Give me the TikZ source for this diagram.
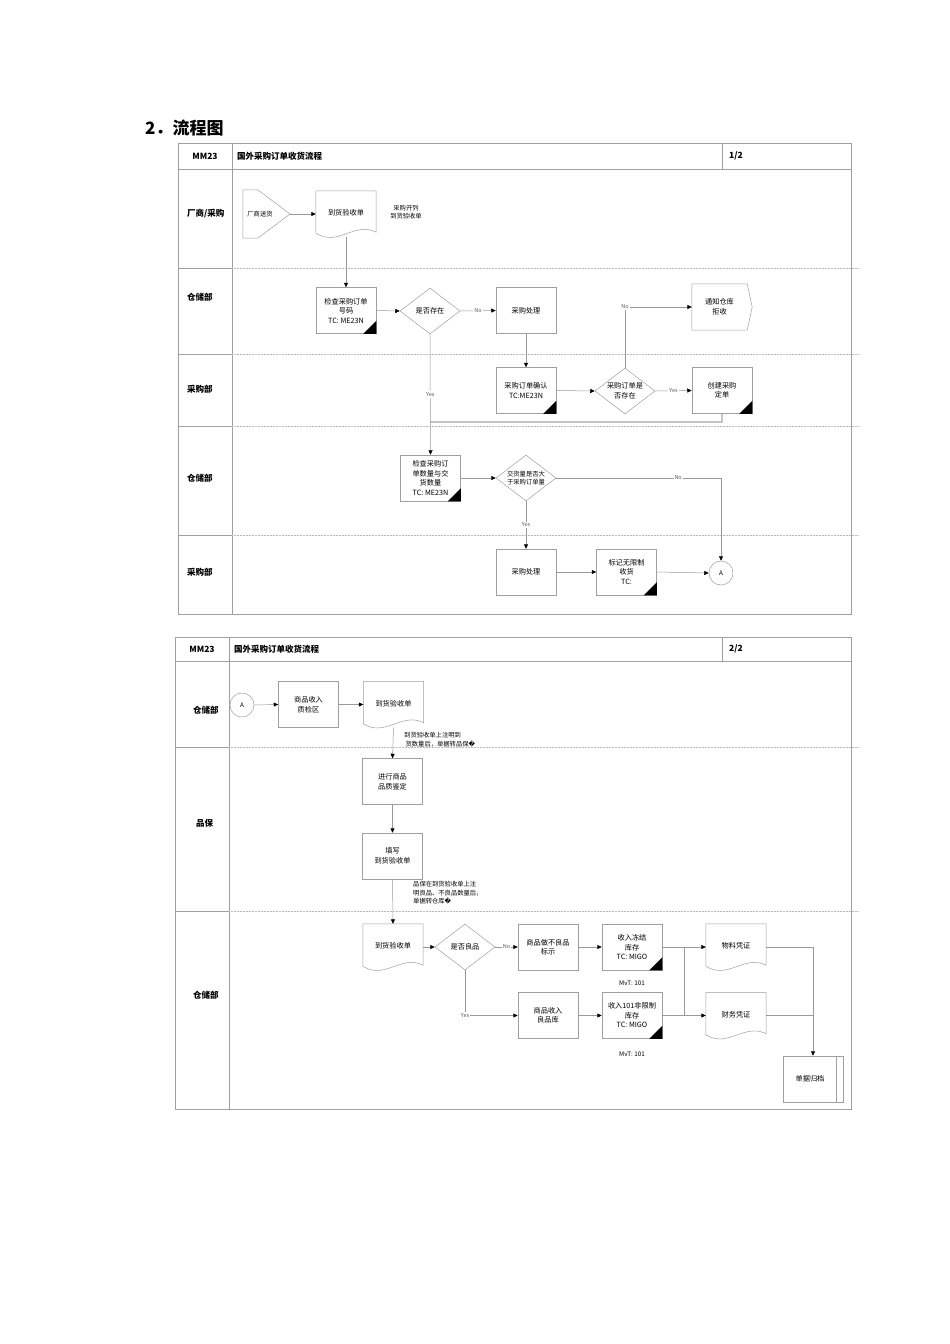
\documentclass[tikz,border=0pt]{standalone}
\usepackage{fontspec}
\setmainfont{Noto Sans CJK SC}
\newfontfamily\symfont{DejaVu Sans}
\usetikzlibrary{arrows.meta,shapes.geometric,calc}
\newcommand\myfs{\fontsize{7.2}{9.5}\selectfont}
\newcommand\mysm{\fontsize{6.3}{8.5}\selectfont}
\newcommand\mylb{\fontsize{5.5}{7}\selectfont}
\newcommand\myhd{\bfseries\fontsize{8.5}{10}\selectfont}
\newcommand\docout[1]{\draw[shp] (#1.north west) -- (#1.north east) -- ($(#1.south east)+(0,-5)$) .. controls ($(#1.south east)+(-22,-16)$) and ($(#1.south west)+(22,10)$) .. ($(#1.south west)+(0,-4)$) -- cycle;}
\newcommand\tri[1]{\fill (#1.south east) -- ++(-13,0) -- ++(13,-13) -- cycle;}
\newcommand\up[1]{\raisebox{3pt}{#1}}
\tikzset{
  frame/.style={draw=gray!75, line width=0.7pt},
  lane/.style={draw=gray!55, line width=0.5pt, densely dotted},
  shp/.style={draw=gray!75, line width=0.5pt},
  box/.style={shp, fill=white, rectangle, minimum width=60pt, minimum height=46pt, inner sep=1pt, align=center, font=\myfs},
  docbox/.style={rectangle, minimum width=60pt, minimum height=46pt, inner sep=1pt, align=center, font=\myfs},
  dia/.style={shp, fill=white, diamond, inner sep=0pt, minimum width=60pt, minimum height=46pt},
  circ/.style={shp, fill=white, circle, minimum size=24pt, inner sep=0pt, font=\mysm},
  txt/.style={inner sep=0pt, align=center, font=\myfs},
  note/.style={inner sep=0pt, align=left, font=\mysm, anchor=north west},
  hd/.style={inner sep=0pt, font=\myhd},
  lanelbl/.style={inner sep=0pt, font=\myhd, anchor=west},
  conn/.style={draw=gray!80, line width=0.5pt},
  arr/.style={conn, -{Triangle[length=4.5pt,width=4pt,color=black]}},
  gline/.style={draw=gray!45, line width=1.6pt},
  lbl/.style={fill=white, inner sep=1pt, font=\mylb, text=gray!70!black},
}
\begin{document}
\begin{tikzpicture}[x=1pt,y=-1pt]
\useasboundingbox[fill=white] (0,0) rectangle (950,1344);
% title
\node[inner sep=0pt, anchor=west, font=\bfseries\fontsize{17}{20}\selectfont] (title) at (145,128) {2．流程图};

% ===================== Table 1 =====================
\draw[frame] (178,143) rectangle (851,614);
\draw[frame] (178,169) -- (851,169);
\draw[frame] (232,143) -- (232,614);
\draw[frame] (722,143) -- (722,169);
\foreach \y in {268,354,426,535}{
  \draw[frame] (178,\y) -- (232,\y);
  \draw[lane] (232,\y) -- (858,\y);
}
\node[hd] (h1a) at (205,156) {MM23};
\node[hd, anchor=west] (h1b) at (237,156) {国外采购订单收货流程};
\node[hd, anchor=west] (h1c) at (729,156) {1/2};
\node[lanelbl] (l1a) at (187,214) {厂商/采购};
\node[lanelbl] (l1b) at (187,297) {仓储部};
\node[lanelbl] (l1c) at (187,389) {采购部};
\node[lanelbl] (l1d) at (187,478) {仓储部};
\node[lanelbl] (l1e) at (187,572) {采购部};

% vendor off-page shape
\node[txt, minimum width=34pt, minimum height=48pt, font=\mysm] (vend) at (260,214) {厂商送货};
\coordinate (vendtip) at (290,214);
\draw[shp] (vend.north west) -- ($(vend.north west)+(15,0)$) -- (vendtip) -- ($(vend.south west)+(15,0)$) -- (vend.south west) -- cycle;

\node[docbox] (doc1) at (346,214) {\up{到货验收单}};
\docout{doc1}
\node[note, anchor=center, align=center] (n1) at (406,212) {采购开列\\到货验收单};

\node[box] (chk1) at (346,310.5) {检查采购订单\\号码\\TC:\ ME23N};
\tri{chk1}
\node[dia] (dia1) at (430,311) {};
\node[txt] (dia1t) at (dia1) {是否存在};
\node[box] (proc1) at (526,310.5) {采购处理};
\node[box] (conf) at (526,390.5) {采购订单确认\\TC:ME23N};
\tri{conf}
\node[dia] (dia2) at (625,391) {};
\node[txt] (dia2t) at (dia2) {采购订单是\\否存在};
\node[box] (create) at (722,390.5) {创建采购\\定单};
\tri{create}
\node[txt, minimum width=55pt, minimum height=46pt] (notify) at (719.5,307) {通知仓库\\拒收};
\draw[shp] (notify.north west) -- (notify.north east) -- ($(notify.east)+(5,0)$) -- (notify.south east) -- (notify.south west) -- cycle;

\node[box] (chk2) at (430.5,478) {检查采购订\\单数量与交\\货数量\\TC:\ ME23N};
\tri{chk2}
\node[dia] (dia3) at (526,478) {};
\node[txt, font=\mysm] (dia3t) at (dia3) {交货量是否大\\于采购订单量};
\node[box] (proc2) at (526,572) {采购处理};
\node[box] (mark) at (626.5,572) {标记无限制\\收货\\TC:};
\tri{mark}
\node[circ] (cA1) at (721,573) {A};

\draw[arr] (vendtip) -- (doc1.west);
\draw[arr] (doc1.south) -- (chk1.north);
\draw[arr] (chk1.east) -- (dia1.west);
\draw[arr] (dia1.east) -- node[lbl]{No} (proc1.west);
\draw[arr] (proc1.south) -- (conf.north);
\draw[arr] (conf.east) -- (dia2.west);
\draw[arr] (dia2.east) -- node[lbl]{Yes} (create.west);
\draw[arr] (dia2.north) |- node[lbl, pos=0.5]{No} (notify.west);
\coordinate (junc) at (430,422);
\draw[gline] (create.south) |- (junc);
\draw[arr] (dia1.south) -- node[lbl]{Yes} (chk2.north);
\draw[arr] (chk2.east) -- (dia3.west);
\draw[arr] (dia3.east) -| node[lbl, pos=0.37]{No} (cA1.north);
\draw[arr] (dia3.south) -- node[lbl]{Yes} (proc2.north);
\draw[arr] (proc2.east) -- (mark.west);
\draw[arr] (mark.east) -- (cA1.west);

% ===================== Table 2 =====================
\draw[frame] (175,637) rectangle (851,1109);
\draw[frame] (175,661) -- (851,661);
\draw[frame] (229,637) -- (229,1109);
\draw[frame] (722,637) -- (722,661);
\foreach \y in {747,911}{
  \draw[frame] (175,\y) -- (229,\y);
  \draw[lane] (229,\y) -- (858,\y);
}
\node[hd] (h2a) at (202,649) {MM23};
\node[hd, anchor=west] (h2b) at (234,649) {国外采购订单收货流程};
\node[hd, anchor=west] (h2c) at (729,649) {2/2};
\node[lanelbl] (l2a) at (193,710) {仓储部};
\node[lanelbl] (l2b) at (196,823) {品保};
\node[lanelbl] (l2c) at (193,995) {仓储部};

\node[circ] (cA2) at (242,705) {A};
\node[box] (qin) at (308.5,704.5) {商品收入\\质检区};
\node[docbox] (doc2) at (393.5,704.5) {\up{到货验收单}};
\docout{doc2}
\node[note] (n2) at (404,732) {到货验收单上注明到\\\ 货数量后，单据转品保{\symfont �}};
\node[box] (qual) at (392.5,781.5) {进行商品\\品质鉴定};
\node[box] (fillq) at (392.5,856) {填写\\到货验收单};
\node[note] (n3) at (413,881) {品保在到货验收单上注\\明良品、不良品数量后，\\单据转仓库{\symfont �}};
\node[docbox] (doc3) at (393,947) {\up{到货验收单}};
\docout{doc3}
\node[dia] (dia4) at (465,947) {};
\node[txt] (dia4t) at (dia4) {是否良品};
\node[box] (bad) at (548,947) {商品做不良品\\标示};
\node[box] (frz) at (632,947) {收入冻结\\库存\\TC:\ MIGO};
\tri{frz}
\node[txt, font=\mysm] (mvt1) at (632,983) {MvT: 101};
\node[box] (good) at (548,1015.5) {商品收入\\良品库};
\node[box] (unr) at (632,1015.5) {收入101非限制\\库存\\TC:\ MIGO};
\tri{unr}
\node[txt, font=\mysm] (mvt2) at (632,1054) {MvT: 101};
\node[docbox] (mdoc) at (736,947) {\up{物料凭证}};
\docout{mdoc}
\node[docbox] (fdoc) at (736,1015.5) {\up{财务凭证}};
\docout{fdoc}
\node[box] (arch) at (813,1079) {单据归档\hspace*{6pt}};
\draw[shp] ($(arch.north east)+(-7,0)$) -- ($(arch.south east)+(-7,0)$);

\draw[arr] (cA2.east) -- (qin.west);
\draw[arr] (qin.east) -- (doc2.west);
\draw[arr] (doc2.south) -- (qual.north);
\draw[arr] (qual.south) -- (fillq.north);
\draw[arr] (fillq.south) -- (doc3.north);
\draw[arr] (doc3.east) -- (dia4.west);
\draw[arr] (dia4.east) -- node[lbl]{No} (bad.west);
\draw[arr] (bad.east) -- (frz.west);
\draw[arr] (dia4.south) |- node[lbl, pos=0.5]{Yes} (good.west);
\draw[arr] (good.east) -- (unr.west);
\draw[arr] (frz.east) -- (mdoc.west);
\draw[arr] (unr.east) -- (fdoc.west);
\coordinate (bus1) at (684,947);
\coordinate (bus2) at (684,1015.5);
\draw[conn] (bus1) -- (bus2);
\draw[arr] (mdoc.east) -| (arch.north);
\coordinate (fj) at (arch.north |- fdoc.east);
\draw[conn] (fdoc.east) -- (fj);
\end{tikzpicture}
\end{document}
